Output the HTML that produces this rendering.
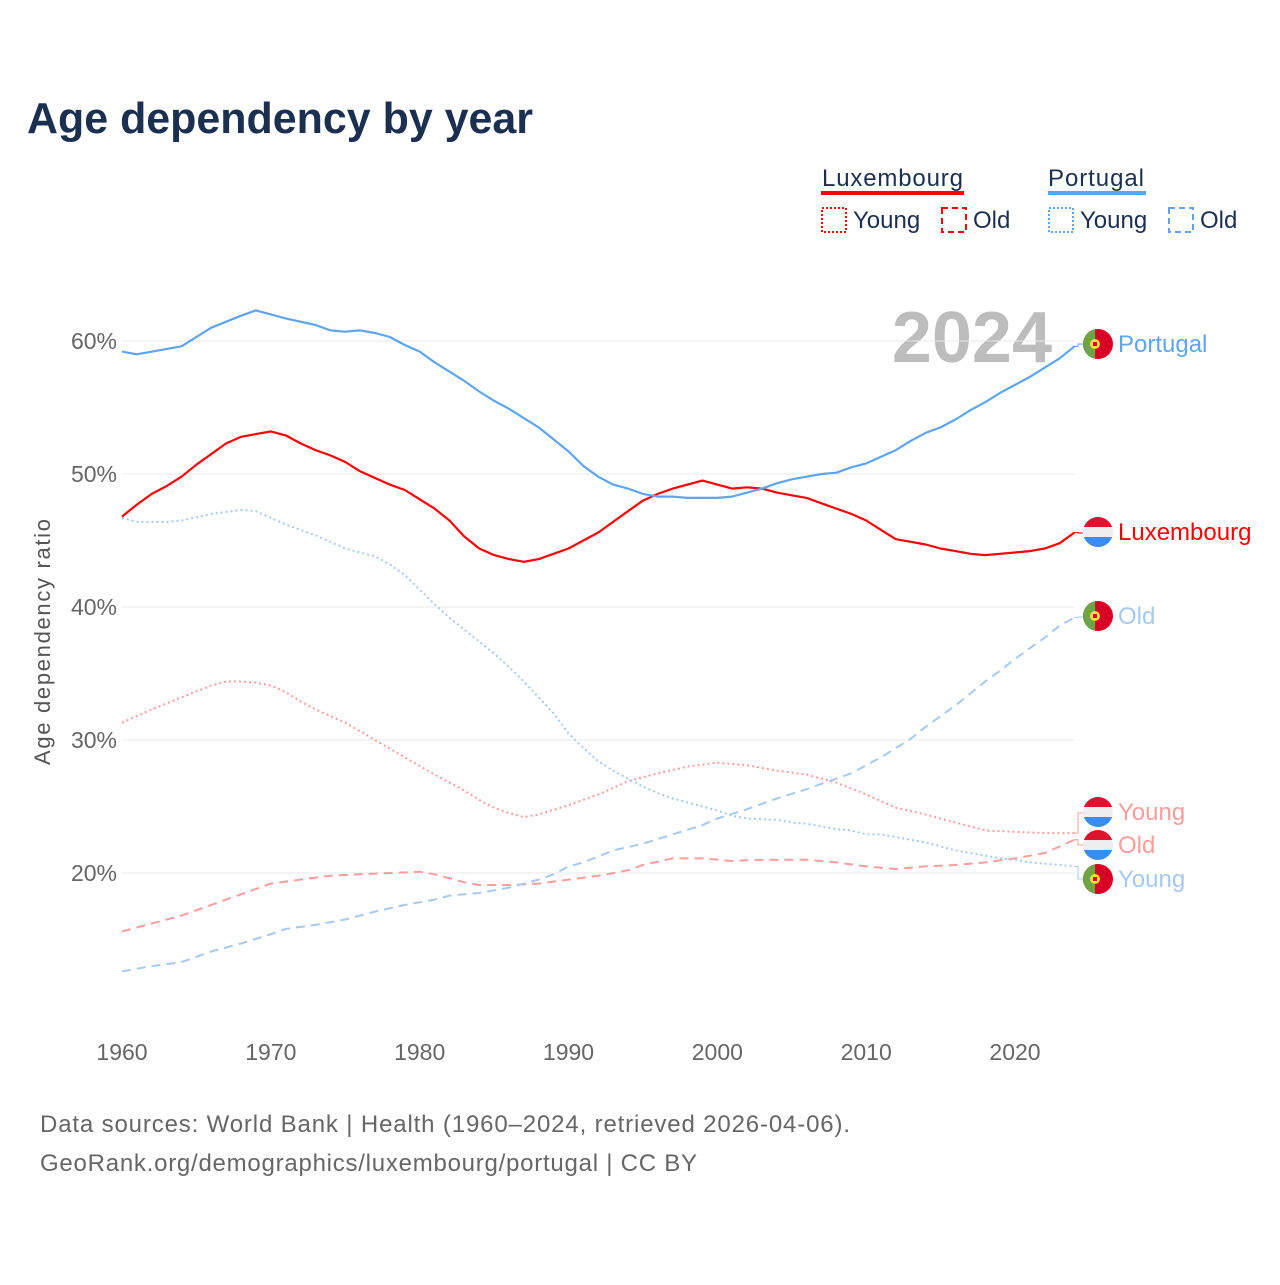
<!DOCTYPE html>
<html><head><meta charset="utf-8"><style>
body{margin:0;background:#fff;width:1280px;height:1280px;overflow:hidden;font-family:"Liberation Sans",sans-serif}
</style></head><body>
<svg id="chart" width="1280" height="1280" xmlns="http://www.w3.org/2000/svg" font-family="Liberation Sans, sans-serif">
<text x="27" y="133" font-size="44" font-weight="bold" fill="#1b2f50" textLength="506" lengthAdjust="spacingAndGlyphs">Age dependency by year</text>
<g>
<text x="822" y="186" font-size="24" fill="#1b2f50" textLength="141">Luxembourg</text>
<rect x="821" y="191" width="143" height="4" fill="#ff0000"/>
<text x="1048" y="186" font-size="24" fill="#1b2f50" textLength="96">Portugal</text>
<rect x="1048" y="191" width="98" height="4" fill="#5ea5ee"/>
<rect x="822" y="208" width="24" height="24" fill="none" stroke="#ff0000" stroke-width="2" stroke-dasharray="2,2"/>
<text x="853" y="228" font-size="24" fill="#1b2f50">Young</text>
<rect x="942" y="208" width="24" height="24" fill="none" stroke="#ff0000" stroke-width="2" stroke-dasharray="6,4"/>
<text x="973" y="228" font-size="24" fill="#1b2f50">Old</text>
<rect x="1049" y="208" width="24" height="24" fill="none" stroke="#5ea5ee" stroke-width="2" stroke-dasharray="2,2"/>
<text x="1080" y="228" font-size="24" fill="#1b2f50">Young</text>
<rect x="1169" y="208" width="24" height="24" fill="none" stroke="#5ea5ee" stroke-width="2" stroke-dasharray="6,4"/>
<text x="1200" y="228" font-size="24" fill="#1b2f50">Old</text>
</g>
<text x="1052" y="362" font-size="72" font-weight="bold" fill="#bdbdbd" text-anchor="end">2024</text>
<text transform="translate(50,642) rotate(-90)" font-size="22" fill="#555" text-anchor="middle" textLength="246">Age dependency ratio</text>
<g id="grid"></g><g id="series"></g><g id="labels"></g>
<text x="40" y="1132" font-size="24" fill="#666" textLength="810">Data sources: World Bank | Health (1960–2024, retrieved 2026-04-06).</text>
<text x="40" y="1171" font-size="24" fill="#666" textLength="657">GeoRank.org/demographics/luxembourg/portugal | CC BY</text>
</svg>
<script>
const yTicks=[20,30,40,50,60];
const xTicks=[1960,1970,1980,1990,2000,2010,2020];
const ptTotalYears=[1960,1961,1964,1966,1968,1969,1970,1971,1973,1974,1975,1976,1977,1978,1979,1980,1981,1982,1983,1984,1985,1986,1987,1988,1989,1990,1991,1992,1993,1994,1995,1996,1997,1998,1999,2000,2001,2002,2003,2004,2005,2006,2007,2008,2009,2010,2011,2012,2013,2014,2015,2016,2017,2018,2019,2020,2021,2022,2023,2024];
const ptTotal=[59.2,59.0,59.6,61.0,61.9,62.3,62.0,61.7,61.2,60.8,60.7,60.8,60.6,60.3,59.7,59.2,58.4,57.7,57.0,56.2,55.5,54.9,54.2,53.5,52.6,51.7,50.6,49.8,49.2,48.9,48.5,48.3,48.3,48.2,48.2,48.2,48.3,48.6,48.9,49.3,49.6,49.8,50.0,50.1,50.5,50.8,51.3,51.8,52.5,53.1,53.5,54.1,54.8,55.4,56.1,56.7,57.3,58.0,58.7,59.6];
const luTotalYears=[1960,1961,1962,1963,1964,1965,1966,1967,1968,1969,1970,1971,1972,1973,1974,1975,1976,1977,1978,1979,1980,1981,1982,1983,1984,1985,1986,1987,1988,1989,1990,1991,1992,1993,1994,1995,1996,1997,1998,1999,2000,2001,2002,2003,2004,2005,2006,2007,2008,2009,2010,2011,2012,2013,2014,2015,2016,2017,2018,2019,2020,2021,2022,2023,2024];
const luTotal=[46.8,47.7,48.5,49.1,49.8,50.7,51.5,52.3,52.8,53.0,53.2,52.9,52.3,51.8,51.4,50.9,50.2,49.7,49.2,48.8,48.1,47.4,46.5,45.3,44.4,43.9,43.6,43.4,43.6,44.0,44.4,45.0,45.6,46.4,47.2,48.0,48.5,48.9,49.2,49.5,49.2,48.9,49.0,48.9,48.6,48.4,48.2,47.8,47.4,47.0,46.5,45.8,45.1,44.9,44.7,44.4,44.2,44.0,43.9,44.0,44.1,44.2,44.4,44.8,45.6];
const ptYoungYears=[1960,1961,1963,1964,1966,1968,1969,1970,1971,1973,1975,1977,1978,1979,1980,1981,1982,1983,1984,1985,1986,1987,1988,1989,1990,1991,1992,1993,1994,1995,1996,1997,1998,1999,2000,2001,2002,2004,2005,2006,2007,2008,2009,2010,2011,2012,2013,2014,2015,2016,2017,2018,2019,2020,2021,2022,2023,2024];
const ptYoung=[46.7,46.4,46.4,46.5,47.0,47.3,47.2,46.7,46.2,45.4,44.4,43.8,43.2,42.4,41.3,40.2,39.2,38.3,37.4,36.5,35.5,34.4,33.2,32.0,30.5,29.4,28.4,27.7,27.1,26.5,26.0,25.6,25.3,25.0,24.7,24.3,24.1,24.0,23.8,23.7,23.5,23.3,23.2,22.9,22.9,22.7,22.5,22.3,22.0,21.7,21.5,21.3,21.1,21.0,20.8,20.7,20.6,20.5];
const ptOldYears=[1960,1962,1964,1966,1968,1970,1971,1973,1975,1977,1979,1981,1982,1984,1986,1988,1989,1990,1991,1993,1995,1997,1999,2000,2002,2004,2006,2008,2009,2010,2011,2012,2013,2014,2015,2016,2017,2018,2019,2020,2021,2022,2023,2024];
const ptOld=[12.6,13.0,13.3,14.1,14.7,15.4,15.8,16.1,16.5,17.1,17.6,18.0,18.3,18.5,18.9,19.5,19.9,20.5,20.8,21.7,22.2,22.9,23.6,24.1,24.8,25.6,26.3,27.1,27.5,28.1,28.7,29.4,30.1,31.0,31.8,32.6,33.5,34.4,35.2,36.1,36.9,37.7,38.6,39.2];
const luYoungYears=[1960,1962,1964,1966,1967,1968,1969,1970,1971,1972,1973,1975,1977,1979,1981,1983,1984,1985,1986,1987,1988,1990,1992,1994,1996,1998,2000,2002,2004,2006,2008,2010,2012,2014,2016,2018,2020,2022,2024];
const luYoung=[31.3,32.3,33.2,34.1,34.4,34.4,34.3,34.1,33.6,32.9,32.3,31.3,30.0,28.7,27.4,26.2,25.5,24.9,24.5,24.2,24.4,25.1,25.9,26.9,27.5,28.0,28.3,28.1,27.7,27.4,26.8,25.9,24.9,24.4,23.8,23.2,23.1,23.0,23.0];
const luOldYears=[1960,1962,1964,1966,1968,1970,1972,1974,1976,1978,1980,1981,1983,1984,1986,1988,1990,1992,1994,1995,1997,1999,2001,2003,2006,2008,2010,2012,2014,2016,2018,2020,2022,2023,2024];
const luOld=[15.6,16.2,16.8,17.6,18.4,19.2,19.5,19.8,19.9,20.0,20.1,19.9,19.3,19.1,19.1,19.2,19.5,19.8,20.2,20.6,21.1,21.1,20.9,21.0,21.0,20.8,20.5,20.3,20.5,20.6,20.8,21.1,21.5,22.0,22.5];

const NS="http://www.w3.org/2000/svg";
const X=yr=>122+(yr-1960)*(893/60);
const Y=v=>873-(v-20)*13.3;
function mk(tag,attrs,parent){const e=document.createElementNS(NS,tag);for(const k in attrs)e.setAttribute(k,attrs[k]);parent.appendChild(e);return e;}
const grid=document.getElementById('grid');
yTicks.forEach(t=>{
  const l=mk('line',{x1:122,x2:1074,y1:Y(t),y2:Y(t),stroke:'#e8e8e8','stroke-width':1},grid);
  
  
  const tx=mk('text',{x:117,y:Y(t)+8,'font-size':23,fill:'#666','text-anchor':'end'},grid);
  tx.textContent=t+'%';
  
  
});
xTicks.forEach(t=>{
  const tx=mk('text',{x:X(t),y:1060,'font-size':23,fill:'#666','text-anchor':'middle'},grid);
  tx.textContent=t;
  
  
});
const ser=document.getElementById('series');
function line(years,vals,color,dash,name,w){
  const d=years.map((yr,i)=>(i?'L':'M')+X(yr).toFixed(1)+','+Y(vals[i]).toFixed(1)).join('');
  const p=mk('path',{d:d,fill:'none',stroke:color,'stroke-width':w,'stroke-dasharray':dash,'stroke-linejoin':'round'},ser);
  
  
}
line(luOldYears,luOld,'#ff9c9c','9,6','line-luxembourg-old',2);
line(luYoungYears,luYoung,'#ff9c9c','2,3','line-luxembourg-young',2);
line(ptOldYears,ptOld,'#a6c9f0','9,6','line-portugal-old',2);
line(ptYoungYears,ptYoung,'#a6c9f0','2,3','line-portugal-young',2);
line(luTotalYears,luTotal,'#ff0000','none','line-luxembourg-total',2.2);
line(ptTotalYears,ptTotal,'#5ea5ee','none','line-portugal-total',2.2);

const lab=document.getElementById('labels');
function flag(cx,cy,country){
  const g=mk('g',{},lab);
  const id='c'+Math.round(cy);
  const cp=mk('clipPath',{id:id},g);mk('circle',{cx:cx,cy:cy,r:15},cp);
  const f=mk('g',{'clip-path':'url(#'+id+')'},g);
  if(country==='lu'){
    mk('rect',{x:cx-15,y:cy-15,width:30,height:10,fill:'#dc1430'},f);
    mk('rect',{x:cx-15,y:cy-5,width:30,height:10,fill:'#eeeeee'},f);
    mk('rect',{x:cx-15,y:cy+5,width:30,height:10,fill:'#3a8cf0'},f);
  }else{
    mk('rect',{x:cx-15,y:cy-15,width:30,height:30,fill:'#d80027'},f);
    mk('rect',{x:cx-15,y:cy-15,width:12,height:30,fill:'#6da544'},f);
    mk('circle',{cx:cx-3,cy:cy,r:5,fill:'#ffda44'},f);
    mk('rect',{x:cx-5,y:cy-2,width:4,height:4,fill:'#d80027'},f);
  }
  
  
}
function label(cy,text,color,country,name){
  flag(1098,cy,country);
  const t=mk('text',{x:1118,y:cy+8,'font-size':24,fill:color},lab);
  t.textContent=text;
  
  
}
function conn(y0,y1,color){
  const p=mk('path',{d:'M1074,'+y0+'H1078V'+y1+'H1083',fill:'none',stroke:color,'stroke-width':1},lab);
  
  
}
conn(Y(ptTotal[ptTotal.length-1]),344,'#5ea5ee');
conn(Y(luTotal[luTotal.length-1]),533,'#ff0000');
conn(Y(ptOld[ptOld.length-1]),617,'#a6c9f0');
conn(Y(luYoung[luYoung.length-1]),813,'#ff9c9c');
conn(Y(luOld[luOld.length-1]),845,'#ff9c9c');
conn(Y(ptYoung[ptYoung.length-1]),879,'#a6c9f0');
label(344,'Portugal','#5ea5ee','pt','label-portugal');
label(532,'Luxembourg','#ff0000','lu','label-luxembourg');
label(616,'Old','#a6c9f0','pt','label-portugal-old');
label(812,'Young','#ff9c9c','lu','label-luxembourg-young');
label(845,'Old','#ff9c9c','lu','label-luxembourg-old');
label(879,'Young','#a6c9f0','pt','label-portugal-young');
</script>
</body></html>
